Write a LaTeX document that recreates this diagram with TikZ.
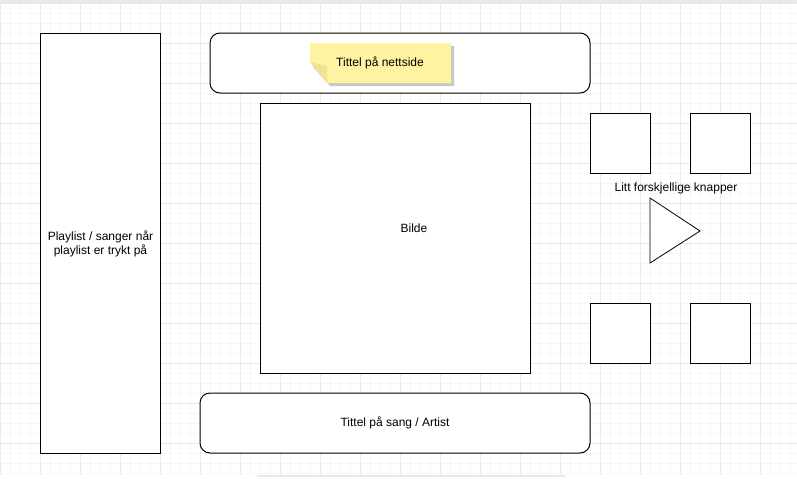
\documentclass[tikz,border=0pt]{standalone}
\usepackage{fontspec}
\setmainfont{Liberation Sans}
\definecolor{gridminor}{HTML}{F6F6F6}
\definecolor{gridmajor}{HTML}{E9E9E9}
\definecolor{notefill}{HTML}{FFF2A1}
\definecolor{notefold}{HTML}{EFE295}
\definecolor{noteshadow}{HTML}{C8C8C8}
\tikzset{
  box/.style={draw=black, line width=1pt, fill=white},
  roundbox/.style={box, rounded corners=10pt},
  lbl/.style={font=\fontsize{12}{14}\selectfont, align=center, inner sep=0pt},
}
\begin{document}
\begin{tikzpicture}[x=1pt, y=-1pt]
  \useasboundingbox (0,0) rectangle (797,479);
  \fill[white] (0,0) rectangle (797,479);
  % canvas grid
  \begin{scope}
    \clip (0,3) rectangle (797,474);
    \foreach \i in {0,...,80} {
      \draw[gridminor, line width=0.7pt] (\i*10,0) -- (\i*10,479);
    }
    \foreach \j in {0,...,48} {
      \draw[gridminor, line width=0.7pt] (0,3+\j*10) -- (797,3+\j*10);
    }
    \foreach \i in {0,...,20} {
      \draw[gridmajor, line width=0.7pt] (\i*40,0) -- (\i*40,479);
    }
    \foreach \j in {0,...,12} {
      \draw[gridmajor, line width=0.7pt] (0,3+\j*40) -- (797,3+\j*40);
    }
  \end{scope}
  \fill[gridmajor] (0,0) rectangle (797,3);
  \draw[gridmajor, line width=1.5pt] (257,476) -- (565,476);

  % playlist column
  \node[box, minimum width=120pt, minimum height=420pt, anchor=north west] (playlist) at (40,33) {};
  \node[lbl] (playlisttext) at (playlist.center) {Playlist / sanger når\\playlist er trykt på};

  % page title bar with sticky note
  \draw[roundbox] (210,33) rectangle (590,93);
  \fill[noteshadow] (313,46) -- (454,46) -- (454,86) -- (330,86) -- (313,67) -- cycle;
  \fill[notefill] (310,43) -- (451,43) -- (451,83) -- (327,83) -- (310,62) -- cycle;
  \fill[notefold] (310,62) -- (327,66) -- (327,83) -- cycle;
  \node[lbl] (sitetitle) at (380,63) {Tittel på nettside};

  % picture area
  \node[box, minimum width=270pt, minimum height=270pt, anchor=north west] (bilde) at (260,103) {};
  \node[lbl] (bildetext) at (414,228) {Bilde};

  % song title bar
  \draw[roundbox] (200,393) rectangle (590,453);
  \node[lbl] (songtitle) at (395,423) {Tittel på sang / Artist};

  % control buttons
  \node[box, minimum size=60pt, anchor=north west] (btnA) at (590,113) {};
  \node[box, minimum size=60pt, anchor=north west] (btnB) at (690,113) {};
  \node[box, minimum size=60pt, anchor=north west] (btnC) at (590,303) {};
  \node[box, minimum size=60pt, anchor=north west] (btnD) at (690,303) {};
  \node[lbl] (btntext) at (676,188) {Litt forskjellige knapper};
  \draw[draw=black, line width=0.8pt, fill=white] (650,198) -- (700,231) -- (650,263) -- cycle;
\end{tikzpicture}
\end{document}
